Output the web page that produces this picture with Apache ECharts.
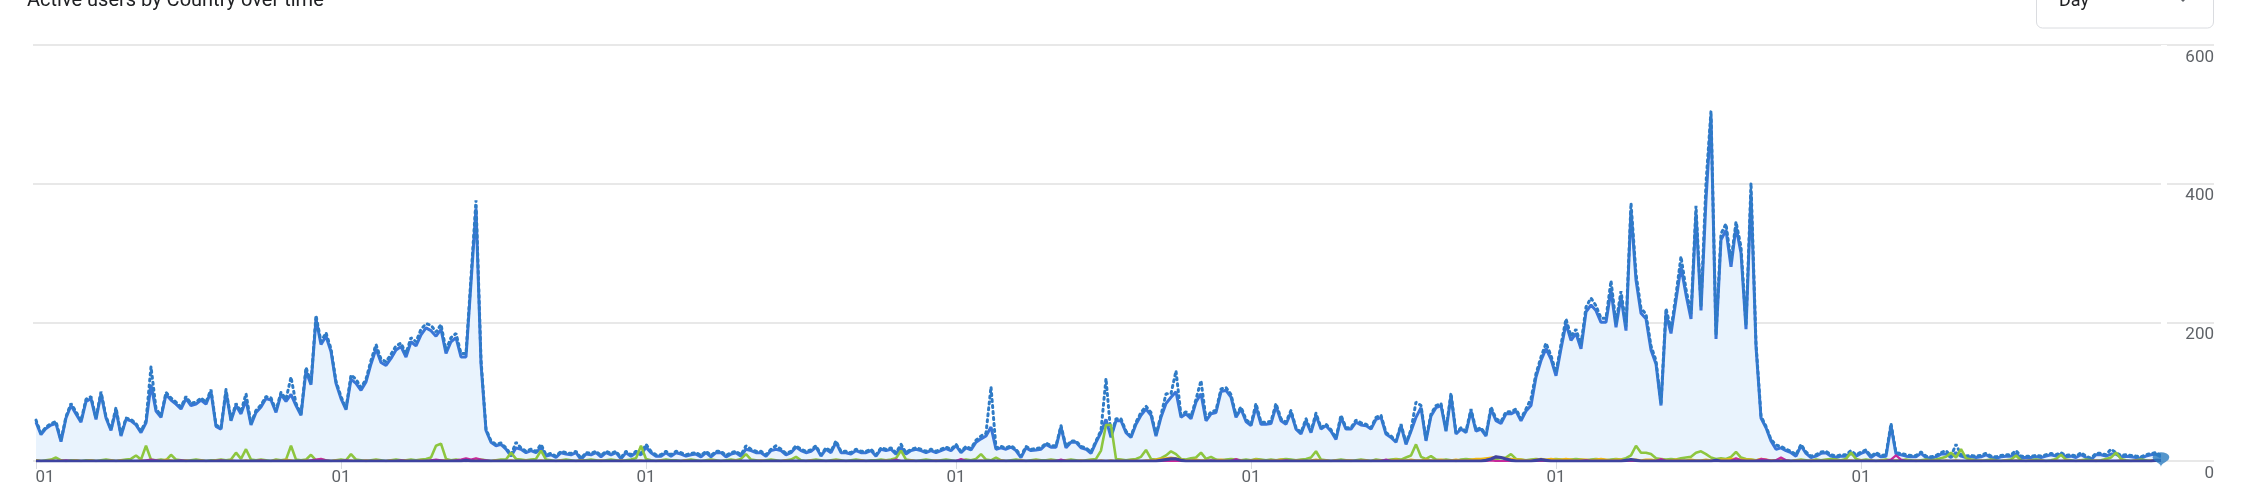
<!DOCTYPE html>
<html><head><meta charset="utf-8">
<script src="https://cdn.jsdelivr.net/npm/echarts@6/dist/echarts.min.js"></script>
<style>html,body{margin:0;padding:0;background:#fff;overflow:hidden}#c{width:2254px;height:486px}</style>
</head><body><div id="c"></div>
<script>
const chartTitle = 'Active users by Country over time';
const granularity = 'Day';
const tickDays = [0, 61, 122, 184, 243, 304, 365];
const tickLabels = ['01', '01', '01', '01', '01', '01', '01'];
const yTicks = [0, 200, 400, 600];

// Day-by-day active users, top country (solid line with area)
const topCountry = [
56,38,47,52,54,28,62,80,68,56, 86,90,60,97,62,44,74,36,60,58,
52,41,55,110,72,63,96,88,82,75, 90,80,82,88,82,100,50,46,100,58,
80,68,88,52,70,78,90,88,70,96, 86,96,80,66,130,110,205,168,180,158,
112,90,74,118,112,102,114,140,162,142, 138,148,160,165,150,172,166,182,192,188,
180,190,155,172,178,150,150,257,364,140, 44,27,22,24,17,7,19,17,12,15,
12,19,7,9,5,12,10,9,12,2, 10,9,12,6,12,9,12,3,12,7,
12,9,20,12,7,7,12,7,12,10, 7,9,10,6,12,6,12,12,6,10,
12,7,17,15,12,12,7,15,17,15, 9,12,20,15,12,14,20,7,17,12,
27,12,12,10,15,12,12,15,7,17, 15,17,10,20,10,15,17,15,12,15,
12,15,18,15,22,12,19,16,27,32, 36,49,17,19,17,20,15,5,19,15,
16,17,24,20,20,49,19,27,27,19, 17,11,27,41,60,34,58,58,41,34,
53,66,75,66,36,63,83,92,100,63, 68,61,85,97,58,68,70,100,102,92,
63,75,57,51,78,53,53,54,79,58, 53,70,46,39,58,41,66,46,51,43,
31,63,46,46,56,52,51,46,60,63, 39,34,27,51,24,43,63,77,29,65,
77,80,43,94,39,46,41,72,43,46, 36,75,58,54,68,68,72,58,72,80,
121,145,162,147,123,162,198,174,184,162, 215,225,217,200,200,246,193,237,188,362,
261,213,205,160,140,80,213,184,232,280, 240,205,357,217,377,497,176,319,333,280,
338,300,190,385,165,62,48,29,17,19, 15,12,7,22,11,5,7,11,12,7,
5,7,7,11,7,11,14,5,10,6, 7,51,10,9,7,6,6,11,5,4,
6,10,10,5,12,7,5,6,5,6, 9,5,4,6,7,7,10,5,5,5,
6,5,7,9,7,10,6,7,5,9, 5,2,9,9,7,10,10,6,7,6,
5,4,7,9,10,6
];

// Day-by-day total (dotted line)
const totalUsers = [
59,40,49,54,57,30,64,83,71,58, 89,93,62,100,64,46,77,38,62,60,
54,43,58,136,76,65,99,91,85,78, 93,83,85,91,85,103,52,48,103,60,
83,71,97,54,73,81,93,91,73,99, 89,121,83,68,135,113,210,172,185,162,
115,93,76,124,118,106,118,145,168,147, 143,154,166,170,155,178,172,190,198,196,
186,197,160,178,184,155,155,265,376,146, 46,29,24,26,19,9,27,19,14,17,
14,24,9,11,7,14,12,11,14,4, 12,11,14,8,14,11,14,5,14,9,
14,11,24,14,9,9,14,9,14,12, 9,11,12,8,14,8,14,14,8,12,
14,9,22,17,14,14,9,17,22,17, 11,14,22,17,14,16,22,9,19,14,
29,14,14,12,17,14,14,17,9,19, 17,19,12,24,12,17,19,17,14,17,
14,17,20,17,24,14,21,18,30,36, 40,107,19,21,19,22,17,7,21,17,
18,19,26,22,22,51,21,29,29,21, 19,13,29,44,119,36,61,61,43,36,
56,70,79,70,38,66,97,97,130,66, 71,64,89,116,61,71,73,104,106,96,
66,78,60,53,83,56,56,57,83,61, 56,73,48,41,61,43,69,48,53,45,
33,66,48,48,59,55,53,48,63,66, 41,36,29,53,26,45,85,80,31,68,
80,83,45,98,41,48,43,75,45,48, 38,78,61,57,71,71,75,61,75,90,
126,150,170,152,128,168,205,180,190,168, 222,235,224,206,206,260,199,245,194,372,
270,220,212,166,145,83,220,190,240,295, 248,212,368,224,401,505,182,328,342,288,
345,309,196,401,170,65,50,31,23,21, 17,14,9,24,13,7,9,13,14,9,
7,9,9,15,9,13,16,7,12,8, 9,54,12,11,9,8,8,13,7,6,
8,12,15,7,24,9,7,8,7,8, 11,7,6,8,9,9,15,7,7,7,
8,7,9,11,9,12,8,9,7,12, 7,4,11,11,9,17,12,8,9,8,
7,6,9,11,12,8
];

const greenCountry = [
1,0,1,2,5,1,0,1,1,0,1,1,0,1,2,1,0,1,2,3,
8,2,22,2,1,2,1,9,2,1,0,1,2,1,0,1,1,2,1,2,
12,3,17,2,1,2,1,0,2,1,2,22,2,1,2,9,1,2,1,0,
1,2,1,10,2,1,0,1,2,1,0,1,2,1,1,2,1,2,3,5,
22,25,3,1,2,1,0,1,1,2,1,0,1,2,2,12,3,2,1,2,
3,15,2,1,0,1,2,1,0,1,1,2,1,0,1,2,1,0,1,2,
4,22,3,1,0,1,2,1,1,0,1,2,1,0,1,2,1,0,1,2,
1,3,10,2,1,0,1,2,1,0,1,2,6,1,0,1,2,1,0,1,
2,1,0,1,2,1,0,1,1,2,1,2,4,15,2,1,0,1,2,1,
0,1,2,1,0,1,2,1,3,10,2,1,5,1,0,1,2,1,0,1,
2,1,1,2,1,0,1,2,1,0,1,2,3,15,52,52,3,2,1,2,
3,6,16,3,2,4,8,14,10,3,2,4,5,12,3,6,2,1,2,3,
2,1,2,1,3,2,1,2,1,2,3,2,1,2,3,5,14,2,1,0,
1,2,1,0,1,2,1,0,2,1,1,2,3,2,5,8,24,6,3,7,
2,1,2,1,0,2,3,2,1,2,3,2,3,4,5,10,3,2,1,2,
3,2,1,2,3,2,1,2,3,2,1,2,3,2,1,2,3,2,4,8,
22,12,12,10,4,3,2,3,2,4,5,6,12,14,10,5,3,4,3,6,
13,5,3,2,1,2,1,0,1,2,1,0,1,2,1,0,2,1,2,3,
2,1,3,12,3,1,2,1,0,1,2,1,0,1,2,1,0,1,2,1,
2,4,6,12,5,17,4,2,1,0,1,2,1,0,1,2,8,1,0,1,
2,1,0,1,3,9,2,1,0,1,2,1,0,1,3,5,12,3,1,0,
1,2,1,0,1,0
];

const yellowCountry = [
1,0,0,1,0,1,0,0,1,0,0,1,0,0,0,1,0,1,0,0,
0,1,0,0,1,0,2,1,0,0,1,0,0,1,0,0,1,0,0,1,
0,0,1,0,0,1,0,0,1,0,2,1,0,0,1,0,0,1,0,0,
1,0,0,1,0,0,1,0,1,0,0,1,0,0,1,0,0,1,0,1,
0,1,1,0,0,1,2,1,3,1,0,0,1,0,0,1,0,0,1,0,
0,1,0,0,0,1,0,0,0,1,0,0,0,1,0,0,0,1,0,0,
0,1,0,0,0,1,0,0,0,0,1,0,0,0,0,1,0,0,0,0,
1,0,0,0,0,1,0,0,0,0,1,0,0,0,0,1,0,0,0,0,
1,0,0,0,0,1,0,0,0,0,1,0,0,0,0,1,0,0,0,0,
1,0,0,0,0,1,0,0,0,1,0,0,0,1,0,0,0,1,0,0,
1,0,0,1,0,0,1,0,0,1,0,1,0,1,0,1,0,1,0,1,
1,0,1,1,2,3,4,5,4,2,1,1,2,1,1,0,1,2,1,0,
1,1,0,1,2,1,0,1,1,2,1,0,1,1,0,1,2,1,1,0,
1,0,1,1,0,1,1,0,1,1,0,1,2,1,1,2,1,1,2,1,
1,2,1,1,2,1,1,2,3,3,4,5,6,5,4,3,2,2,1,1,
2,3,2,3,2,2,3,2,1,2,2,1,2,3,2,1,2,2,1,2,
2,1,2,2,1,2,1,1,2,1,1,2,1,1,2,1,1,2,2,3,
3,2,2,2,1,3,2,1,1,2,1,0,1,1,0,1,1,0,1,0,
1,0,1,1,0,1,0,1,0,1,1,0,1,0,1,0,1,0,1,0,
1,0,1,0,1,0,0,1,0,1,0,1,0,0,1,0,1,0,0,1,
0,1,0,0,1,0,1,0,0,1,0,0,1,0,1,0,0,1,0,0,
1,0,0,1,0,0
];

const magentaCountry = [
0,0,0,0,0,0,1,0,0,0,0,0,0,0,0,0,0,0,0,0,
0,0,1,2,1,0,0,0,0,1,0,0,0,0,0,0,0,1,0,0,
0,0,0,0,0,1,0,0,0,0,0,0,0,0,0,1,2,3,1,0,
0,0,1,0,0,0,0,0,0,0,0,0,0,1,0,0,0,0,0,1,
2,1,0,0,1,2,4,2,4,2,1,0,0,0,0,0,0,0,0,0,
0,0,0,0,0,0,0,0,0,0,0,0,0,0,0,0,0,0,0,0,
0,0,0,0,0,0,0,0,0,0,0,0,0,0,0,0,0,0,0,0,
0,0,0,0,0,0,0,0,0,0,0,0,0,0,0,0,0,0,0,0,
0,0,0,0,0,0,0,0,0,0,0,0,2,0,0,0,0,0,0,0,
0,0,0,0,0,3,0,0,0,0,0,0,0,0,0,0,0,0,0,0,
0,0,0,0,0,2,0,0,0,0,0,0,0,0,0,0,0,0,0,0,
0,0,0,0,0,0,0,0,0,0,0,0,0,0,0,1,0,0,0,0,
3,0,0,0,0,0,0,0,0,0,1,0,0,0,0,0,0,0,0,0,
0,0,0,0,0,0,0,0,0,0,2,0,0,0,0,0,0,0,0,0,
0,0,0,0,0,0,0,0,0,0,0,1,0,0,0,0,0,0,0,0,
0,0,0,0,0,0,0,0,0,0,1,0,0,0,0,0,0,0,0,0,
0,0,0,0,0,3,0,0,0,0,0,0,0,0,0,0,0,0,0,0,
4,1,0,0,0,3,2,0,1,5,1,0,0,0,0,0,0,0,0,0,
0,0,0,0,0,0,0,0,0,0,0,2,8,2,0,0,0,0,0,0,
0,0,0,0,0,0,0,0,0,0,0,0,0,0,0,0,0,0,0,0,
0,0,0,0,0,0,0,0,0,0,0,0,0,0,0,0,0,0,0,0,
0,0,0,0,0,0
];

const navyCountry = [
0,0,0,0,0,0,0,0,0,0,0,0,0,0,0,0,0,0,0,0,
0,0,0,0,0,0,0,0,0,0,0,0,0,0,0,0,0,0,0,0,
0,0,0,0,0,0,0,0,0,0,0,0,0,0,0,0,0,0,0,0,
0,0,0,0,0,0,0,0,0,0,0,0,0,0,0,0,0,0,0,0,
0,0,0,0,0,0,1,0,0,0,0,0,0,0,0,0,0,0,0,0,
0,0,0,0,0,0,0,0,0,0,0,0,0,0,0,0,0,0,0,0,
0,0,0,0,0,0,0,0,0,0,0,0,0,0,0,0,0,0,0,0,
0,0,0,0,0,0,0,0,0,0,0,0,0,0,0,0,0,0,0,0,
0,0,0,0,0,0,0,0,0,0,0,0,0,0,0,0,0,0,0,0,
0,0,0,0,0,0,0,0,0,0,0,0,0,0,0,0,0,0,0,0,
0,0,0,0,0,0,0,0,0,0,0,0,0,0,0,0,0,0,0,0,
0,0,0,0,0,1,2,3,3,1,0,0,0,0,0,0,0,0,0,0,
0,0,0,0,0,0,0,0,0,0,0,0,0,0,0,0,0,0,0,0,
0,0,0,0,0,0,0,0,0,0,0,0,0,0,0,0,0,0,0,0,
0,0,0,0,0,0,0,0,0,0,1,3,6,5,3,1,0,0,0,0,
1,2,1,0,0,0,0,0,0,0,0,0,0,0,0,0,0,0,1,2,
1,0,0,0,0,0,0,0,0,0,0,0,0,0,0,0,1,0,0,0,
0,0,0,0,0,0,0,0,0,0,0,0,0,0,0,0,0,0,0,0,
0,0,0,0,0,0,0,0,0,0,0,0,0,0,0,0,0,0,0,0,
0,0,0,0,0,0,0,0,0,0,0,0,0,0,0,0,0,0,0,0,
0,0,0,0,0,0,0,0,0,0,0,0,0,0,0,0,0,0,0,0,
0,0,0,0,1,1
];

const lastDay = topCountry.length - 1;
const pairs = arr => arr.map((v, i) => [i, v]);
const FONT = 'Roboto, "Noto Sans", sans-serif';

const chart = echarts.init(document.getElementById('c'), null, {renderer: 'canvas'});
const lineBase = {type: 'line', showSymbol: false, symbol: 'none', animation: false, smooth: false};

chart.setOption({
  animation: false,
  backgroundColor: '#ffffff',
  grid: {left: 33, right: 40, top: 45, bottom: 25, containLabel: false, outerBoundsMode: 'none'},
  xAxis: {
    type: 'value', min: -0.6, max: 435.6,
    axisLine: {show: false},
    splitLine: {show: false},
    axisTick: {show: true, customValues: tickDays, length: 8, lineStyle: {color: '#dadce0', width: 1}},
    axisLabel: {
      show: true, customValues: tickDays, margin: 8,
      fontFamily: FONT, fontSize: 17, color: '#5f6368',
      formatter: (v) => {
        const i = tickDays.indexOf(Math.round(v));
        const t = i >= 0 ? tickLabels[i] : '';
        return i === 0 ? '{a|' + t + '}' : t;
      },
      rich: {a: {fontFamily: FONT, fontSize: 17, color: '#5f6368', padding: [0, 0, 0, 18]}}
    }
  },
  yAxis: {
    type: 'value', position: 'right', min: 0, max: 600, interval: 200,
    axisLine: {show: false}, axisTick: {show: false},
    splitLine: {show: true, lineStyle: {color: '#e8e8e8', width: 2}},
    axisLabel: {
      inside: true, margin: 0, align: 'right', verticalAlign: 'top', padding: [4, 0, 0, 0],
      fontFamily: FONT, fontSize: 17, color: '#5f6368',
      formatter: v => (yTicks.indexOf(v) >= 0 ? String(v) : '')
    }
  },
  graphic: [
    {type: 'text', x: 27, y: 1, z: 10,
      style: {text: chartTitle, fontFamily: FONT, fontSize: 20, fill: '#202124', verticalAlign: 'middle', align: 'left'}},
    {type: 'rect', x: 2036.5, y: -20, z: 10,
      shape: {width: 177, height: 48, r: 6},
      style: {fill: 'none', stroke: '#dadce0', lineWidth: 1}},
    {type: 'text', x: 2059, y: 1, z: 10,
      style: {text: granularity, fontFamily: FONT, fontSize: 18, fill: '#202124', verticalAlign: 'middle', align: 'left'}},
    {type: 'polygon', z: 10, shape: {points: [[2178, -3], [2188, -3], [2183, 2]]}, style: {fill: '#5f6368'}}
  ],
  series: [
    Object.assign({}, lineBase, {
      name: 'Top country', z: 2, data: pairs(topCountry),
      lineStyle: {color: '#3a76d8', width: 3},
      itemStyle: {color: '#3a76d8'},
      areaStyle: {color: '#e9f3fd', opacity: 1},
      markLine: {silent: true, symbol: 'none', label: {show: false}, animation: false,
        lineStyle: {color: '#ffffff', width: 6, type: 'solid'},
        data: [{xAxis: 425.6}]}
    }),
    Object.assign({}, lineBase, {
      name: 'Total', z: 3, data: pairs(totalUsers),
      lineStyle: {color: '#2f7bc6', width: 3, type: [2, 4], cap: 'round'},
      itemStyle: {color: '#2f7bc6'}
    }),
    Object.assign({}, lineBase, {
      name: 'Country 2', z: 4, data: pairs(greenCountry),
      lineStyle: {color: '#8dc63f', width: 2.6}, itemStyle: {color: '#8dc63f'}
    }),
    Object.assign({}, lineBase, {
      name: 'Country 3', z: 4, data: pairs(yellowCountry),
      lineStyle: {color: '#f2b90c', width: 2.2}, itemStyle: {color: '#f2b90c'}
    }),
    Object.assign({}, lineBase, {
      name: 'Country 4', z: 4, data: pairs(magentaCountry),
      lineStyle: {color: '#c8289a', width: 2.2}, itemStyle: {color: '#c8289a'}
    }),
    Object.assign({}, lineBase, {
      name: 'Country 5', z: 5, data: pairs(navyCountry),
      lineStyle: {color: '#3e43a0', width: 3.2}, itemStyle: {color: '#3e43a0'}
    }),
    {
      type: 'scatter', name: 'marker', z: 6, animation: false,
      data: [[lastDay, 0]], symbol: 'pin', symbolSize: [28, 17], symbolOffset: [0, 6],
      itemStyle: {color: '#2a7cbf'}
    }
  ]
});
</script>
</body></html>
